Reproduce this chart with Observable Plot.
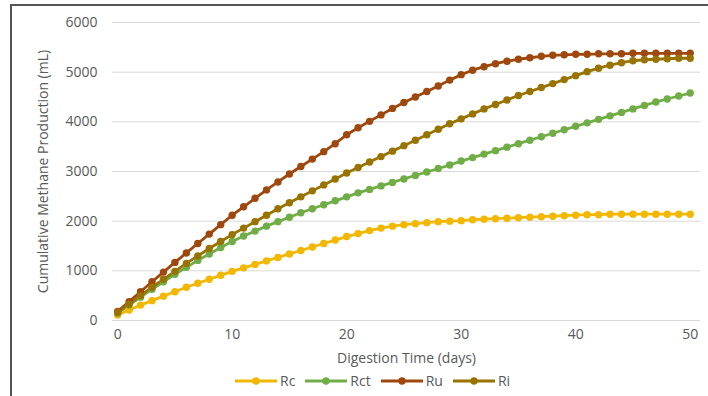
<!DOCTYPE html>
<html><head><meta charset="utf-8">
<script src="https://cdn.jsdelivr.net/npm/d3@7"></script>
<script src="https://cdn.jsdelivr.net/npm/@observablehq/plot@0.6"></script>
<style>
body{margin:0;background:#fff;font-family:"Open Sans",sans-serif;}
#frame{position:absolute;left:10px;top:4px;width:720px;height:420px;border-left:2px solid #555;border-top:2px solid #555;}
#chart{position:absolute;left:0;top:0;}
#legend{position:absolute;top:371px;left:235px;display:flex;gap:10px;font-size:14px;color:#595959;align-items:center;}
#legend .item{display:flex;align-items:center;gap:3px;}
</style></head>
<body>
<div id="frame"></div>
<div id="chart"></div>
<div id="legend"></div>
<script>
const days = d3.range(0, 51);
const seriesNames = ["Rc", "Rct", "Ru", "Ri"];
const seriesColors = ["#f2b800", "#70ad47", "#9e480e", "#997300"];
const Rc = [110,210,310,400,490,580,670,750,830,910,990,1060,1130,1200,1270,1340,1410,1480,1550,1620,1690,1750,1810,1860,1900,1930,1950,1970,1990,2000,2010,2030,2040,2050,2060,2070,2080,2090,2100,2110,2120,2130,2130,2140,2140,2140,2140,2140,2140,2140,2140];
const Rct = [150,310,470,630,780,930,1070,1210,1340,1470,1590,1700,1800,1900,1990,2080,2170,2250,2330,2410,2490,2570,2640,2710,2780,2850,2920,2990,3060,3130,3210,3280,3350,3420,3490,3560,3630,3700,3770,3840,3910,3980,4050,4120,4190,4260,4330,4400,4460,4520,4580];
const Ru = [180,380,580,780,975,1170,1360,1550,1740,1930,2120,2290,2460,2630,2790,2950,3100,3250,3400,3560,3740,3880,4010,4140,4270,4390,4500,4610,4720,4840,4950,5040,5110,5170,5220,5260,5290,5320,5340,5350,5360,5360,5370,5370,5370,5380,5380,5380,5380,5380,5380];
const Ri = [160,330,500,670,830,990,1150,1300,1450,1590,1730,1860,1990,2120,2250,2370,2490,2610,2730,2850,2970,3080,3190,3300,3410,3520,3630,3740,3850,3960,4060,4160,4260,4350,4440,4530,4610,4690,4770,4850,4930,5010,5080,5140,5190,5230,5250,5260,5270,5280,5280];
const yTicks = [0,1000,2000,3000,4000,5000,6000];
const xTicks = [0,10,20,30,40,50];

const seriesValues = [Rc, Rct, Ru, Ri];
const data = seriesNames.flatMap((name, i) => days.map((d, j) => ({series: name, day: d, value: seriesValues[i][j]})));

const chart = Plot.plot({
  width: 708, height: 368,
  marginLeft: 112, marginRight: 8, marginTop: 22, marginBottom: 48,
  style: {fontFamily: '"Open Sans", sans-serif', fontSize: "14px", color: "#595959", background: "transparent"},
  x: {domain: [-0.45, 50.9], ticks: xTicks},
  y: {domain: [0, 6000], ticks: yTicks},
  color: {domain: seriesNames, range: seriesColors},
  marks: [
    Plot.gridY(yTicks, {stroke: "#d9d9d9", strokeOpacity: 1}),
    Plot.axisY(yTicks, {tickSize: 0, tickPadding: 15, tickFormat: d => String(d), label: "Cumulative Methane Production (mL)", labelAnchor: "center", labelArrow: "none", labelOffset: 74, fontSize: 14}),
    Plot.axisX(xTicks, {tickSize: 0, tickPadding: 9, tickFormat: d => String(d), label: "Digestion Time (days)", labelAnchor: "center", labelArrow: "none", labelOffset: 42, fontSize: 14}),
    Plot.line(data, {x: "day", y: "value", z: "series", stroke: "series", strokeWidth: 2.8}),
    Plot.dot(data, {x: "day", y: "value", fill: "series", r: 3.7})
  ]
});
document.getElementById("chart").appendChild(chart);

const legend = document.getElementById("legend");
seriesNames.forEach((name, i) => {
  const item = document.createElement("div");
  item.className = "item";
  item.innerHTML = `<svg width="42" height="10"><line x1="0" y1="5" x2="42" y2="5" stroke="${seriesColors[i]}" stroke-width="2.8"/><circle cx="21" cy="5" r="3.7" fill="${seriesColors[i]}"/></svg><span>${name}</span>`;
  legend.appendChild(item);
});
</script>
</body></html>
